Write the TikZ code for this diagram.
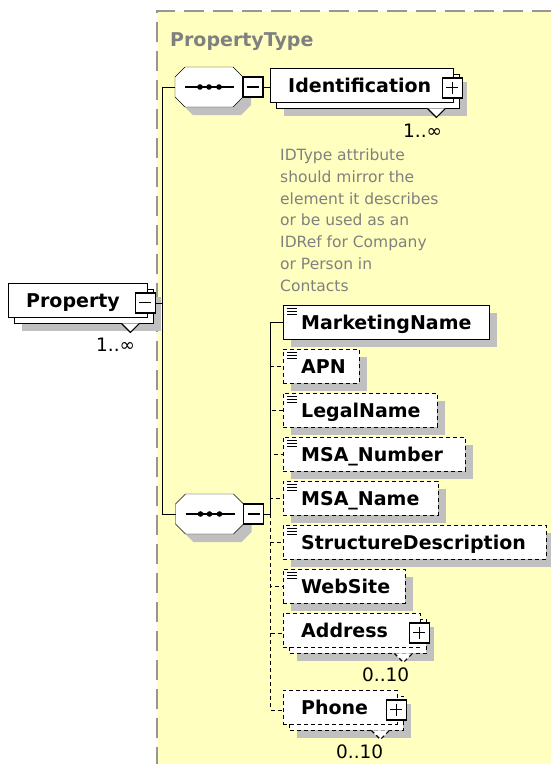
\documentclass[tikz,border=0pt]{standalone}
\usepackage{fontspec}
\setmainfont{DejaVu Sans}
\usetikzlibrary{calc}
\pgfdeclarelayer{bgl}
\pgfdeclarelayer{shl}
\pgfsetlayers{bgl,shl,main}
\definecolor{xyellow}{RGB}{255,255,192}
\definecolor{xshadow}{RGB}{192,192,192}
\definecolor{xborder}{RGB}{150,150,150}
\definecolor{xtext}{RGB}{128,128,128}
\newcommand{\elab}[2]{\makebox[#1pt][l]{#2}}
\begin{document}
\begin{tikzpicture}[x=1pt,y=-1pt,line width=1.9pt,
  optl/.style={dash pattern=on 4pt off 3pt},
  elem/.style={draw, fill=white, anchor=north west, minimum height=34pt,
    inner xsep=18pt, inner ysep=0pt, text height=14pt, text depth=0pt,
    font=\fontsize{19}{22}\selectfont\bfseries},
  card/.style={anchor=base west, inner sep=0pt, font=\fontsize{18.5}{20}\selectfont},
  seqn/.style={rectangle, minimum width=68pt, minimum height=40pt, inner sep=0pt, outer sep=0pt},
  mbox/.style={draw, fill=white, minimum size=20pt, inner sep=0pt, line width=1.6pt,
    path picture={\draw[line width=1.5pt] ([xshift=4pt]path picture bounding box.west) -- ([xshift=-4pt]path picture bounding box.east);}},
  pbox/.style={draw, fill=white, minimum size=20pt, inner sep=0pt, line width=1.6pt,
    path picture={\draw[line width=1.5pt] ([xshift=4pt]path picture bounding box.west) -- ([xshift=-4pt]path picture bounding box.east);
      \draw[line width=1.5pt] ([yshift=-4pt]path picture bounding box.north) -- ([yshift=4pt]path picture bounding box.south);}},
  icon/.style={line width=0.9pt},
  tri/.style={draw, fill=white, line width=1.1pt}
]
\useasboundingbox (0,0) rectangle (551,764);

% background
\begin{pgfonlayer}{bgl}
  \fill[white] (0,0) rectangle (551,764);
  \fill[xyellow] (157,11) rectangle (554,767);
  \draw[xborder, line width=1.8pt, dash pattern=on 20pt off 9pt] (157,767) -- (157,11) -- (554,11);
\end{pgfonlayer}

\node[anchor=base west, inner sep=0pt, text=xtext, font=\fontsize{19}{22}\selectfont\bfseries] (ptype) at (170,46) {PropertyType};

% elements
\node[elem] (prop) at (8,283) {\elab{103}{Property}};
\node[elem] (ident) at (270,68) {\elab{147}{Identification}};
\node[elem] (mkt) at (283,305) {\elab{170}{MarketingName}};
\node[elem, optl] (apn) at (283,349) {\elab{40}{APN}};
\node[elem, optl] (legal) at (283,393) {\elab{118}{LegalName}};
\node[elem, optl] (msanum) at (283,437) {\elab{146}{MSA\_Number}};
\node[elem, optl] (msaname) at (283,481) {\elab{119}{MSA\_Name}};
\node[elem, optl] (struct) at (283,525) {\elab{227}{StructureDescription}};
\node[elem, optl] (web) at (283,569) {\elab{86}{WebSite}};
\node[elem, optl] (addr) at (283,613) {\elab{101}{Address}};
\node[elem, optl] (phone) at (283,690) {\elab{78}{Phone}};

% expand boxes
\node[mbox] (pm) at ([xshift=-2pt,yshift=-2.5pt]prop.east) {};
\node[pbox] (pi) at ([xshift=-1pt,yshift=-2.5pt]ident.east) {};
\node[pbox] (pa) at ([xshift=-1pt,yshift=-2.5pt]addr.east) {};
\node[pbox] (pp) at ([xshift=-1pt,yshift=-2.5pt]phone.east) {};

% sequence compositors
\node[seqn] (s1) at (209,87) {};
\node[seqn] (s2) at (209.5,514) {};
\node[mbox] (m1) at ([xshift=10pt]s1.east) {};
\node[mbox] (m2) at ([xshift=10pt]s2.east) {};

\foreach \s in {s1,s2}{
  \draw[line width=1.4pt] ([xshift=10pt]\s.west) -- ([xshift=-9pt]\s.east);
  \fill ([xshift=-9pt]\s.center) circle (2.8pt);
  \fill (\s.center) circle (2.8pt);
  \fill ([xshift=10pt]\s.center) circle (2.8pt);
}

% shadows, stacked copies, octagons
\begin{pgfonlayer}{shl}
  \foreach \n in {mkt,apn,legal,msanum,msaname,struct,web}{
    \fill[xshadow] ([xshift=8pt,yshift=-8pt]\n.north west) rectangle ([xshift=8pt,yshift=-8pt]\n.south east);
  }
  \foreach \n/\st in {prop/solid,ident/solid,addr/optl,phone/optl}{
    \fill[xshadow] ([xshift=14pt,yshift=-14pt]\n.north west) rectangle ([xshift=14pt,yshift=-14pt]\n.south east);
    \draw[fill=white,\st] ([xshift=6pt,yshift=-6pt]\n.north west) rectangle ([xshift=6pt,yshift=-6pt]\n.south east);
    \draw[tri,\st] ([xshift=-26pt,yshift=-6pt]\n.south east) -- ([xshift=-17pt,yshift=-15pt]\n.south east) -- ([xshift=-8pt,yshift=-6pt]\n.south east);
  }
  \foreach \s in {s1,s2}{
    \fill[xshadow] ([xshift=18pt,yshift=-8pt]\s.north west) -- ([xshift=-2pt,yshift=-8pt]\s.north east)
      -- ([xshift=8pt,yshift=-18pt]\s.north east) -- ([xshift=8pt,yshift=2pt]\s.south east)
      -- ([xshift=-2pt,yshift=-8pt]\s.south east) -- ([xshift=18pt,yshift=-8pt]\s.south west)
      -- ([xshift=8pt,yshift=2pt]\s.south west) -- ([xshift=8pt,yshift=-18pt]\s.north west) -- cycle;
    \draw[fill=white] ([xshift=10pt]\s.north west) -- ([xshift=-10pt]\s.north east)
      -- ([yshift=-10pt]\s.north east) -- ([yshift=10pt]\s.south east)
      -- ([xshift=-10pt]\s.south east) -- ([xshift=10pt]\s.south west)
      -- ([yshift=10pt]\s.south west) -- ([yshift=-10pt]\s.north west) -- cycle;
  }
\end{pgfonlayer}

% simple-type icons
\foreach \n in {mkt,apn,legal,msanum,msaname,struct,web}{
  \foreach \d in {3,6,9}{
    \draw[icon] ([xshift=4pt,yshift=-\d pt]\n.north west) -- ++(10,0);
  }
}

% cardinalities
\node[card] (c1) at (403,137) {1..∞};
\node[card] (c2) at (96,351) {1..∞};
\node[card] (c3) at (362,681) {0..10};
\node[card] (c4) at (336,758) {0..10};

% annotation
\node[anchor=north west, inner sep=0pt, align=left, text=xtext, font=\fontsize{15.5}{21.8}\selectfont] (doc) at (280,148.5)
  {IDType attribute\\should mirror the\\element it describes\\or be used as an\\IDRef for Company\\or Person in\\Contacts};

% connectors
\coordinate (jp) at ([xshift=6pt]pm.east);
\draw (pm.east) -- (jp);
\draw (jp) |- (s1.west);
\draw (jp) |- (s2.west);
\draw (m1.east) -- (m1.east -| ident.west);
\coordinate (bus) at ([xshift=6pt]m2.east);
\draw (m2.east) -- (bus);
\draw (bus) |- (mkt.west);
\foreach \n in {apn,legal,msanum,msaname,struct,web}{
  \draw[optl] (bus) |- (\n.west);
}
\draw[optl] (bus) |- (addr.west |- pa.center);
\draw[optl] (bus) |- (phone.west |- pp.center);
\end{tikzpicture}
\end{document}
